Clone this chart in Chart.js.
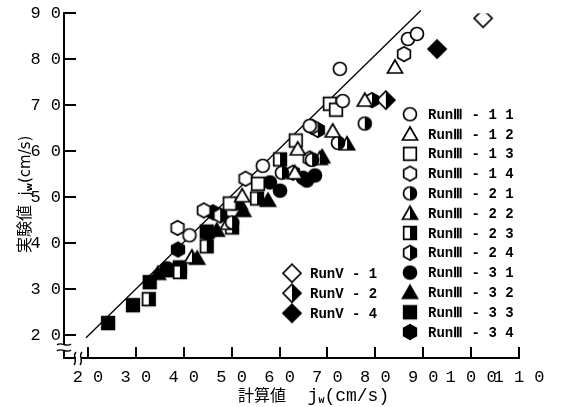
<!DOCTYPE html>
<html>
<head>
<meta charset="utf-8">
<script src="https://cdn.jsdelivr.net/npm/chart.js@4"></script>
<style>
html,body{margin:0;padding:0;background:#fff;}
</style>
</head>
<body>
<canvas id="chart" width="562" height="407"></canvas>
<script>
// axis ticks
const xTicks = [20, 30, 40, 50, 60, 70, 80, 90, 100, 110];
const yTicks = [20, 30, 40, 50, 60, 70, 80, 90];

// 1:1 reference line
const lineX = [19.6, 89.5];
const lineY = [19.4, 90.6];

// measured (y) vs calculated (x) j_w, cm/s
const run3_11 = [[41.2, 41.7], [56.5, 56.8], [66.3, 65.5], [73.2, 70.9], [72.6, 77.9], [86.8, 84.4], [88.7, 85.5]];
const run3_12 = [[52.2, 50.3], [63.2, 55.3], [63.8, 60.5], [71.1, 64.4], [77.8, 71.1], [84.1, 78.3]];
const run3_13 = [[49.6, 48.6], [55.5, 52.9], [63.4, 62.3], [70.5, 70.3], [71.8, 69.0]];
const run3_14 = [[38.7, 43.3], [44.2, 47.1], [52.9, 54.0], [66.8, 65.3], [86.0, 81.1]];
const run3_21 = [[50.1, 44.5], [60.5, 55.3], [66.8, 58.1], [72.2, 61.8], [77.8, 66.0]];
const run3_22 = [[41.7, 37.0], [49.2, 44.3], [68.4, 58.4], [74.1, 61.6]];
const run3_23 = [[32.7, 27.8], [39.2, 33.7], [44.8, 39.3], [50.1, 43.4], [55.3, 49.7], [60.1, 58.2]];
const run3_24 = [[47.6, 46.0], [62.8, 55.3], [66.3, 58.4], [68.0, 64.6], [79.3, 71.1]];
const run3_31 = [[36.5, 34.5], [58.0, 53.2], [60.1, 51.4], [64.9, 54.2], [65.7, 53.6], [67.4, 54.7]];
const run3_32 = [[34.6, 33.4], [42.8, 36.7], [46.9, 42.8], [51.7, 48.6], [52.4, 47.1], [57.6, 49.3], [68.9, 58.8]];
const run3_33 = [[24.2, 22.6], [29.4, 26.5], [32.9, 31.5], [37.1, 34.1], [39.2, 34.7], [44.8, 42.5]];
const run3_34 = [[38.8, 38.6], [45.1, 42.1], [46.1, 46.7]];
const run5_1 = [[102.5, 88.9]];
const run5_2 = [[82.2, 71.1]];
const run5_4 = [[92.9, 82.2]];

const rightLegend = [
  ['RunⅢ - 1 1', 'circle', 'open', run3_11],
  ['RunⅢ - 1 2', 'triangle', 'open', run3_12],
  ['RunⅢ - 1 3', 'square', 'open', run3_13],
  ['RunⅢ - 1 4', 'hexagon', 'open', run3_14],
  ['RunⅢ - 2 1', 'circle', 'half', run3_21],
  ['RunⅢ - 2 2', 'triangle', 'half', run3_22],
  ['RunⅢ - 2 3', 'square', 'half', run3_23],
  ['RunⅢ - 2 4', 'hexagon', 'half', run3_24],
  ['RunⅢ - 3 1', 'circle', 'full', run3_31],
  ['RunⅢ - 3 2', 'triangle', 'full', run3_32],
  ['RunⅢ - 3 3', 'square', 'full', run3_33],
  ['RunⅢ - 3 4', 'hexagon', 'full', run3_34]
];
const leftLegend = [
  ['RunV - 1', 'diamond', 'open', run5_1],
  ['RunV - 2', 'diamond', 'half', run5_2],
  ['RunV - 4', 'diamond', 'full', run5_4]
];

function makeMarker(shape, fill){
  const size = 22;
  const c = document.createElement('canvas');
  c.width = size; c.height = size;
  const g = c.getContext('2d');
  const m = size / 2;
  const path = () => {
    g.beginPath();
    if (shape === 'circle') g.arc(m, m, 6.5, 0, Math.PI * 2);
    else if (shape === 'triangle'){ g.moveTo(m, m - 7); g.lineTo(m + 7.5, m + 6); g.lineTo(m - 7.5, m + 6); g.closePath(); }
    else if (shape === 'square') g.rect(m - 6.3, m - 6.3, 12.6, 12.6);
    else if (shape === 'hexagon'){
      for (let i = 0; i < 6; i++){
        const a = Math.PI / 2 + i * Math.PI / 3;
        const px = m + 7.3 * Math.cos(a), py = m + 7.3 * Math.sin(a);
        if (i) g.lineTo(px, py); else g.moveTo(px, py);
      }
      g.closePath();
    }
    else { g.moveTo(m, m - 9); g.lineTo(m + 9, m); g.lineTo(m, m + 9); g.lineTo(m - 9, m); g.closePath(); }
  };
  path();
  g.fillStyle = fill === 'full' ? '#000' : '#fff';
  g.fill();
  if (fill === 'half'){
    g.save();
    g.beginPath(); g.rect(m, 0, m, size); g.clip();
    path(); g.fillStyle = '#000'; g.fill();
    g.restore();
  }
  path();
  g.lineWidth = 1.7;
  g.strokeStyle = '#000';
  g.stroke();
  return c;
}

const allSeries = rightLegend.concat(leftLegend).map(([label, shape, fill, pts]) => ({
  label, img: makeMarker(shape, fill), pts
}));

const datasets = allSeries.map(s => ({
  label: s.label,
  data: s.pts.map(p => ({ x: p[0], y: p[1] })),
  pointStyle: s.img
}));
datasets.push({
  type: 'line',
  label: 'y=x',
  data: lineX.map((x, i) => ({ x, y: lineY[i] })),
  borderColor: '#000',
  borderWidth: 1.3,
  pointRadius: 0,
  fill: false,
  clip: false,
  order: 2
});

const MONO = '"Liberation Mono", "DejaVu Sans Mono", monospace';
const JP = '"Noto Sans CJK JP", sans-serif';
const spaced = v => String(v).split('').join(' ');

function drawRuns(ctx, parts, x, y){
  let cx = x;
  for (const [t, font, dy] of parts){
    ctx.font = font;
    ctx.fillText(t, cx, y + (dy || 0));
    cx += ctx.measureText(t).width;
  }
}

// inward tick marks and axis break marks
const axisMarks = {
  id: 'axisMarks',
  afterDraw(chart){
    const { ctx, chartArea: a } = chart;
    const xs = chart.scales.x, ys = chart.scales.y;
    ctx.save();
    ctx.strokeStyle = '#000';
    ctx.lineWidth = 2;
    ctx.beginPath();
    yTicks.forEach(v => { const py = Math.round(ys.getPixelForValue(v)); ctx.moveTo(a.left, py); ctx.lineTo(a.left + 12, py); });
    xTicks.forEach(v => { const px = Math.round(xs.getPixelForValue(v)); ctx.moveTo(px, a.bottom); ctx.lineTo(px, a.bottom - 11); });
    ctx.stroke();

    ctx.fillStyle = '#fff';
    ctx.fillRect(a.left - 2, a.bottom - 13, 4, 5);
    ctx.fillRect(a.left + 12, a.bottom - 2, 5, 4);
    ctx.lineWidth = 1.4;
    ctx.beginPath();
    [a.bottom - 14, a.bottom - 8].forEach(py => {
      ctx.moveTo(a.left - 7, py + 1);
      ctx.bezierCurveTo(a.left - 3, py - 3, a.left + 3, py + 4, a.left + 7, py);
    });
    [a.left + 11, a.left + 17].forEach(px => {
      ctx.moveTo(px + 1, a.bottom - 6);
      ctx.bezierCurveTo(px - 3, a.bottom - 2, px + 3, a.bottom + 2, px - 1, a.bottom + 7);
    });
    ctx.stroke();
    ctx.restore();
  }
};

// legends and axis titles
const decor = {
  id: 'decor',
  afterDraw(chart){
    const { ctx, chartArea: a } = chart;
    ctx.save();
    ctx.fillStyle = '#000';
    ctx.textBaseline = 'middle';
    ctx.textAlign = 'left';
    ctx.font = 'bold 14px ' + MONO;
    const nR = rightLegend.length;
    allSeries.slice(0, nR).forEach((s, i) => {
      const my = a.top + 101 + i * 19.8;
      ctx.drawImage(s.img, a.left + 346 - 11, my - 11);
      ctx.fillText(s.label, a.left + 364, my + 1);
    });
    allSeries.slice(nR).forEach((s, i) => {
      const my = a.top + 260 + i * 20;
      ctx.drawImage(s.img, a.left + 228 - 11, my - 11);
      ctx.fillText(s.label, a.left + 246, my + 1);
    });

    ctx.textBaseline = 'alphabetic';
    drawRuns(ctx, [
      ['計算値', '16px ' + JP],
      ['  j', '18px ' + MONO],
      ['w', 'bold 10px ' + MONO, 2],
      ['(cm/s)', '18px ' + MONO]
    ], a.left + 174, a.bottom + 43);

    ctx.translate(a.left - 39, a.bottom - 105);
    ctx.rotate(-Math.PI / 2);
    drawRuns(ctx, [
      ['実験値', '16px ' + JP],
      ['  j', '15px "DejaVu Sans", sans-serif'],
      ['w', 'bold 9px "DejaVu Sans", sans-serif', 2],
      ['(cm/s)', '15px "DejaVu Sans", sans-serif']
    ], 0, 5);
    ctx.restore();
  }
};

new Chart(document.getElementById('chart'), {
  type: 'scatter',
  data: { datasets },
  options: {
    responsive: false,
    animation: false,
    layout: { padding: { top: 12, right: 43 } },
    plugins: { legend: { display: false }, tooltip: { enabled: false } },
    scales: {
      x: {
        min: 15, max: 110,
        afterBuildTicks: s => { s.ticks = xTicks.map(v => ({ value: v })); },
        afterFit: s => { s.height = 49; },
        grid: { display: false, drawTicks: false },
        border: { display: true, color: '#000', width: 2 },
        ticks: { color: '#000', padding: 9, maxRotation: 0, autoSkip: false, font: { family: MONO, size: 17 }, callback: spaced }
      },
      y: {
        min: 15, max: 90,
        afterBuildTicks: s => { s.ticks = yTicks.map(v => ({ value: v })); },
        afterFit: s => { s.width = 64; },
        grid: { display: false, drawTicks: false },
        border: { display: true, color: '#000', width: 2 },
        ticks: { color: '#000', padding: 3, autoSkip: false, font: { family: MONO, size: 17 }, callback: spaced }
      }
    }
  },
  plugins: [axisMarks, decor]
});
</script>
</body>
</html>
